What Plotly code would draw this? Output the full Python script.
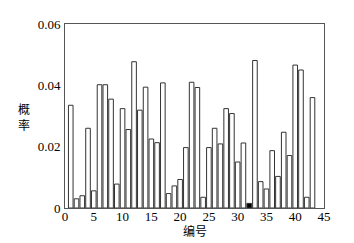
import plotly.graph_objects as go

ids = list(range(1, 44))
probs = [0.0335, 0.0030, 0.0040, 0.0260, 0.0056, 0.0402, 0.0402, 0.0355, 0.0078, 0.0324,
         0.0256, 0.0477, 0.0319, 0.0394, 0.0225, 0.0213, 0.0408, 0.0047, 0.0072, 0.0093,
         0.0197, 0.0410, 0.0393, 0.0035, 0.0197, 0.0260, 0.0209, 0.0324, 0.0308, 0.0150,
         0.0212, 0.0015, 0.0481, 0.0086, 0.0062, 0.0187, 0.0103, 0.0247, 0.0171, 0.0466,
         0.0450, 0.0035, 0.0360]
highlight_id = 32
x_ticks = [0, 5, 10, 15, 20, 25, 30, 35, 40, 45]
y_ticks = [0, 0.02, 0.04, 0.06]
y_tick_text = ["0", "0.02", "0.04", "0.06"]

colors = ["black" if i == highlight_id else "white" for i in ids]

fig = go.Figure(go.Bar(x=ids, y=probs, width=0.8, marker=dict(color=colors,
                line=dict(color="#333333", width=1))))

font_serif = "Liberation Serif"
fig.update_layout(
    width=346, height=235,
    margin=dict(l=57, r=30, t=9, b=35),
    plot_bgcolor="white", paper_bgcolor="white",
    showlegend=False,
    font=dict(family=font_serif, size=13, color="black"),
    xaxis=dict(range=[0, 45], tickvals=x_ticks, showgrid=False, zeroline=False,
               showline=True, linecolor="#555555", linewidth=1, mirror=True,
               ticks="", ticklabelstandoff=-4, tickfont=dict(family=font_serif, size=13)),
    yaxis=dict(range=[0, 0.06], tickvals=y_ticks, ticktext=y_tick_text, showgrid=False,
               zeroline=False, showline=True, linecolor="#555555", linewidth=1, mirror=True,
               ticks="", ticklabelstandoff=1, tickfont=dict(family=font_serif, size=13)),
    annotations=[
        dict(text="编号", x=0.5, y=-0.12, xref="paper", yref="paper", showarrow=False,
             xanchor="center", yanchor="middle",
             font=dict(family="Noto Sans CJK SC", size=12)),
        dict(text="概<br>率", x=-0.16, y=0.5, xref="paper", yref="paper", showarrow=False,
             xanchor="center", yanchor="middle",
             font=dict(family="Noto Sans CJK SC", size=12)),
    ],
)

fig.write_html("out.html")
